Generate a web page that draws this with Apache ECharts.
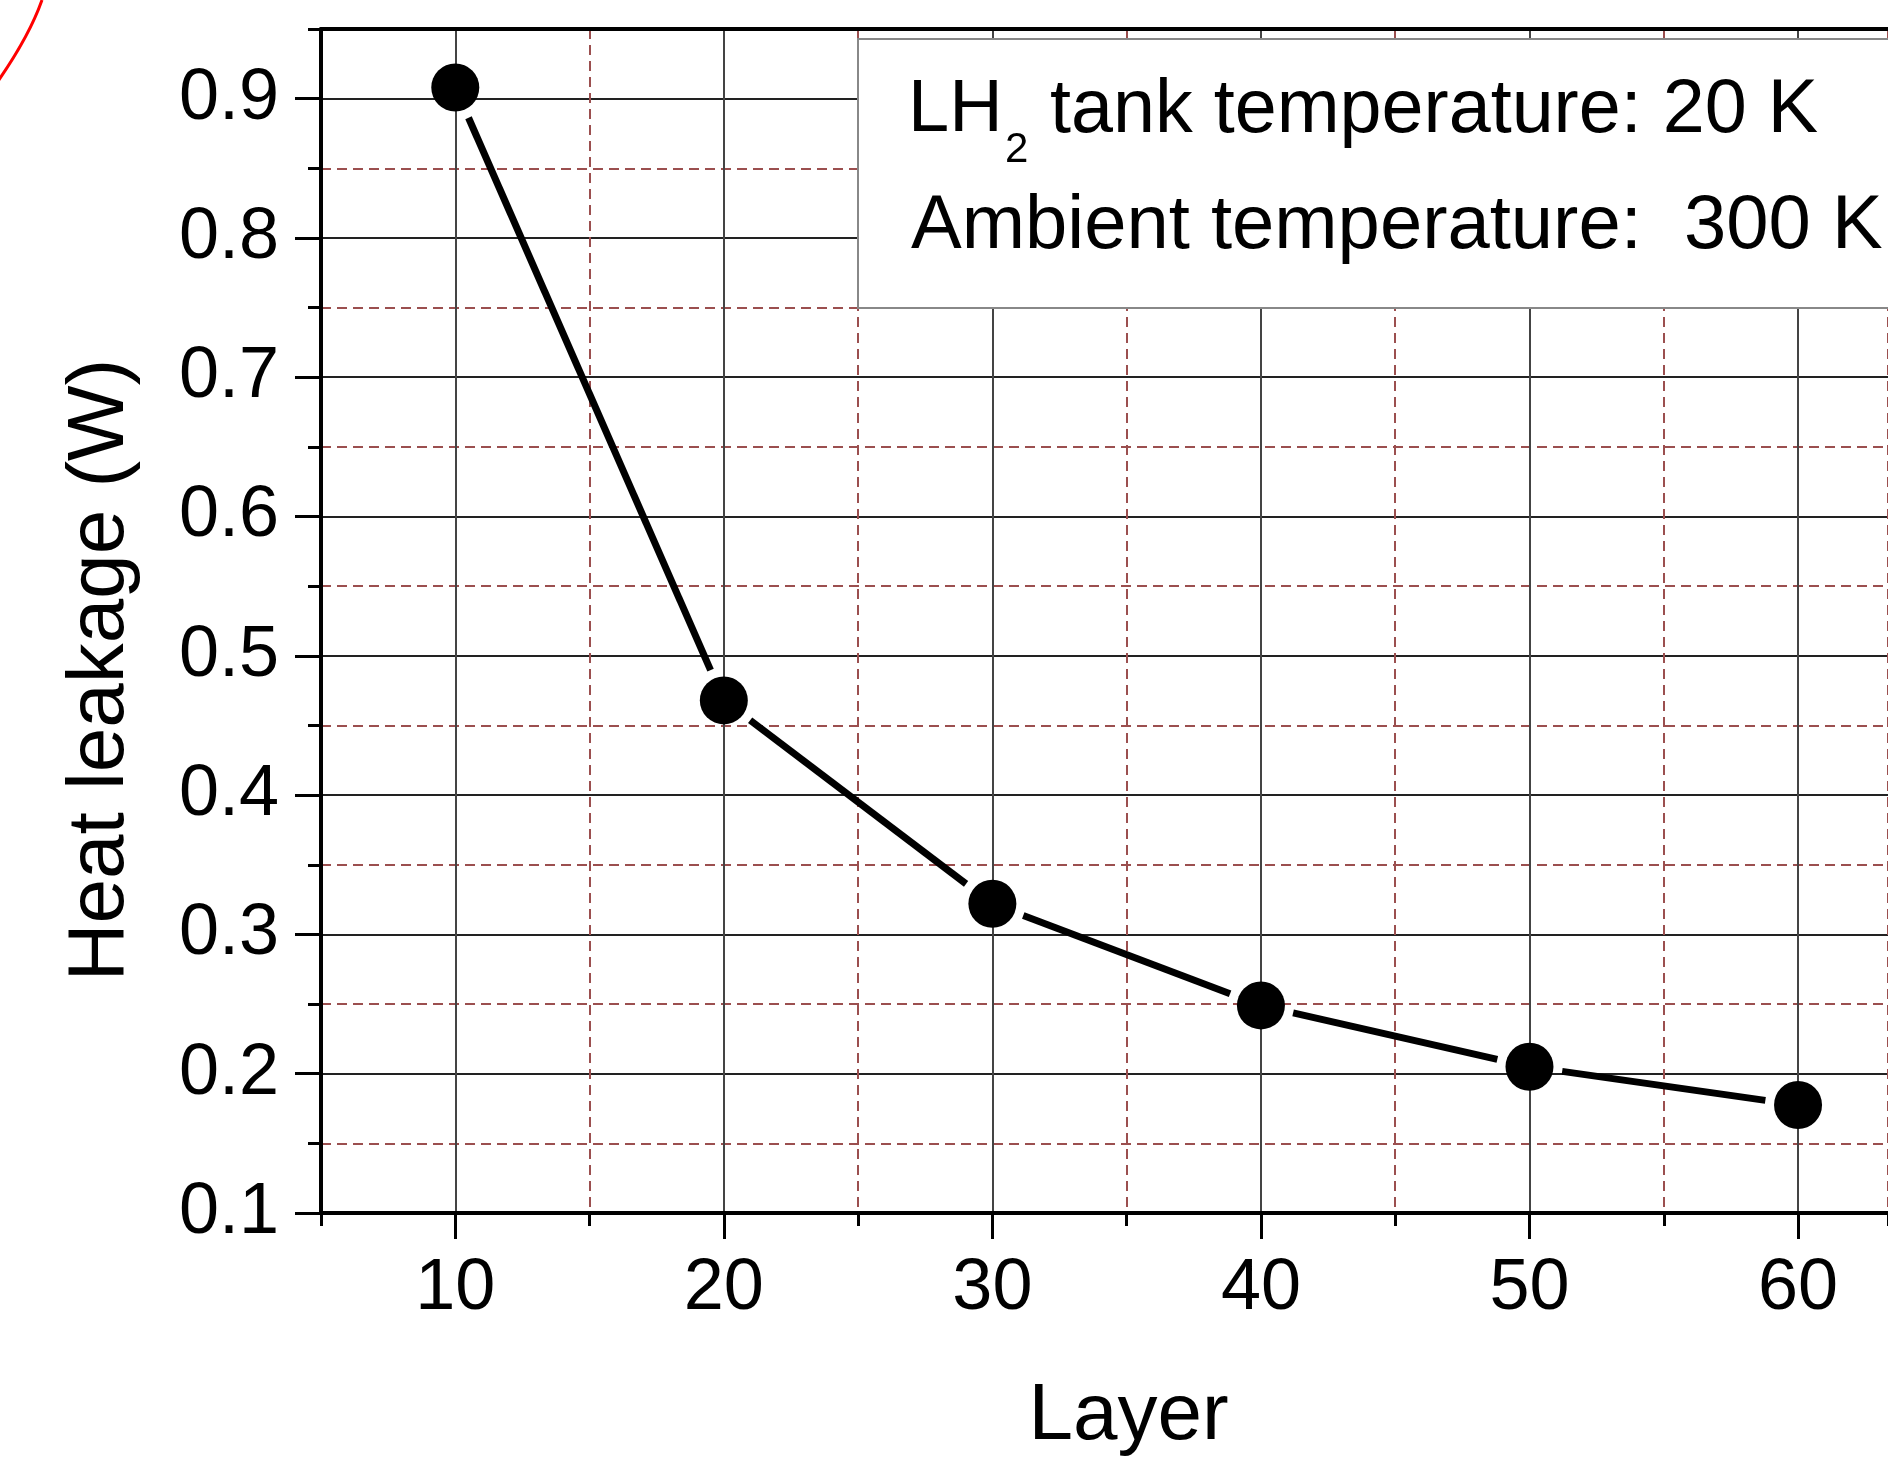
<!DOCTYPE html>
<html>
<head>
<meta charset="utf-8">
<title>Heat leakage vs layer</title>
<script src="https://cdn.jsdelivr.net/npm/echarts@6/dist/echarts.min.js"></script>
<style>
    html, body { margin: 0; padding: 0; background: #fff; }
    #main { width: 1888px; height: 1466px; }
</style>
</head>
<body>
<div id="main"></div>
<script>
'use strict';

// data
var layers = [10, 20, 30, 40, 50, 60];
var heatLeakage = [0.908, 0.468, 0.322, 0.249, 0.205, 0.1775];

// tick labels
var xTicks = [10, 20, 30, 40, 50, 60];
var yTicks = [0.1, 0.2, 0.3, 0.4, 0.5, 0.6, 0.7, 0.8, 0.9];

// the figure is cut off on the right, just past 63
var xMin = 5;
var xMax = 63.35;
var yMin = 0.1;
var yMax = 0.95;

var font = 'Liberation Sans, Arial, Helvetica, sans-serif';

function dashboardEcharts() {
    var myChart = echarts.init(document.getElementById('main'));

    var points = layers.map(function(x, i) {
        return [x, heatLeakage[i]];
    });

    // origin style line: segments stop short of the markers
    function renderSegment(params, api) {
        var i = params.dataIndex;
        if (i >= points.length - 1) {
            return null;
        }
        var p1 = api.coord(points[i]);
        var p2 = api.coord(points[i + 1]);
        var dx = p2[0] - p1[0];
        var dy = p2[1] - p1[1];
        var len = Math.sqrt(dx * dx + dy * dy);
        var gap = 33;
        return {
            type: 'line',
            shape: {
                x1: p1[0] + dx / len * gap,
                y1: p1[1] + dy / len * gap,
                x2: p2[0] - dx / len * gap,
                y2: p2[1] - dy / len * gap
            },
            style: {
                stroke: '#000',
                lineWidth: 7
            }
        };
    }

    var minorLine = {
        show: true,
        lineStyle: { color: '#9b4f4f', width: 2, type: [10, 6] }
    };

    var option = {
        backgroundColor: '#fff',
        animation: false,
        grid: {
            left: 321,
            top: 29,
            bottom: 253,
            right: 0,
            show: false
        },
        xAxis: [{
            // minor grid every 5
            type: 'value',
            min: xMin,
            max: xMax,
            interval: 5,
            position: 'bottom',
            name: 'Layer',
            nameLocation: 'middle',
            nameGap: 164,
            // original axis ran to 65, so its title sits a little right of this centre
            nameTextStyle: { fontFamily: font, fontSize: 80, color: '#000', padding: [0, 0, 0, 48] },
            axisLine: { show: true, onZero: false, lineStyle: { color: '#000', width: 4 } },
            axisTick: { show: true, inside: false, length: 13, lineStyle: { color: '#000', width: 3 } },
            axisLabel: { show: false },
            splitLine: minorLine
        }, {
            // major grid and labels every 10
            type: 'value',
            min: xMin,
            max: xMax,
            splitNumber: 6,
            position: 'bottom',
            axisLine: { show: false, onZero: false },
            axisTick: {
                show: true,
                inside: false,
                length: 26,
                customValues: xTicks,
                lineStyle: { color: '#000', width: 3 }
            },
            axisLabel: {
                show: true,
                customValues: xTicks,
                margin: 40,
                fontFamily: font,
                fontSize: 72,
                color: '#000',
                formatter: function(v) {
                    return xTicks.indexOf(v) >= 0 ? String(v) : '';
                }
            },
            splitLine: { show: true, lineStyle: { color: '#444', width: 2 } }
        }, {
            // top frame line
            type: 'value',
            min: xMin,
            max: xMax,
            position: 'top',
            axisLine: { show: true, onZero: false, lineStyle: { color: '#000', width: 4 } },
            axisTick: { show: false },
            axisLabel: { show: false },
            splitLine: { show: false }
        }],
        yAxis: [{
            // minor grid every 0.05
            type: 'value',
            min: yMin,
            max: yMax,
            interval: 0.05,
            position: 'left',
            axisLine: { show: true, onZero: false, lineStyle: { color: '#000', width: 4 } },
            axisTick: { show: true, inside: false, length: 13, lineStyle: { color: '#000', width: 3 } },
            axisLabel: { show: false },
            splitLine: minorLine
        }, {
            type: 'value',
            min: yMin,
            max: yMax,
            interval: 0.1,
            position: 'left',
            axisLine: { show: false, onZero: false },
            axisTick: {
                show: true,
                inside: false,
                length: 26,
                customValues: yTicks,
                lineStyle: { color: '#000', width: 3 }
            },
            axisLabel: {
                show: true,
                customValues: yTicks,
                margin: 42,
                fontFamily: font,
                fontSize: 72,
                color: '#000',
                formatter: function(v) {
                    return v > 0.92 ? '' : v.toFixed(1);
                }
            },
            splitLine: { show: true, lineStyle: { color: '#222', width: 2 } }
        }],
        series: [{
            name: 'line',
            type: 'custom',
            xAxisIndex: 0,
            yAxisIndex: 0,
            renderItem: renderSegment,
            data: points,
            z: 3
        }, {
            name: 'Heat leakage',
            type: 'scatter',
            xAxisIndex: 1,
            yAxisIndex: 1,
            symbol: 'circle',
            symbolSize: 48,
            itemStyle: { color: '#000', opacity: 1 },
            data: points,
            z: 4
        }],
        graphic: [{
            // y axis title, placed a bit below centre as in the figure
            type: 'text',
            x: 101,
            y: 670,
            rotation: Math.PI / 2,
            z: 20,
            style: {
                text: 'Heat leakage (W)',
                fontFamily: font,
                fontSize: 80,
                fill: '#000',
                align: 'center',
                verticalAlign: 'middle'
            }
        }, {
            // annotation box
            type: 'rect',
            z: 50,
            shape: { x: 858, y: 39, width: 1100, height: 269 },
            style: { fill: '#fff', stroke: '#888', lineWidth: 2 }
        }, {
            type: 'text',
            z: 51,
            x: 908,
            y: 111,
            style: {
                text: 'LH',
                fontFamily: font,
                fontSize: 74,
                fill: '#000',
                align: 'left',
                verticalAlign: 'middle'
            }
        }, {
            type: 'text',
            z: 51,
            x: 1005,
            y: 150,
            style: {
                text: '2',
                fontFamily: font,
                fontSize: 42,
                fill: '#000',
                align: 'left',
                verticalAlign: 'middle'
            }
        }, {
            type: 'text',
            z: 51,
            x: 1050,
            y: 111,
            style: {
                text: 'tank temperature: 20 K',
                fontFamily: font,
                fontSize: 75.5,
                fill: '#000',
                align: 'left',
                verticalAlign: 'middle'
            }
        }, {
            type: 'text',
            z: 51,
            x: 911,
            y: 227,
            style: {
                text: 'Ambient temperature:  300 K',
                fontFamily: font,
                fontSize: 76,
                fill: '#000',
                align: 'left',
                verticalAlign: 'middle'
            }
        }, {
            // red stroke in the top left corner
            type: 'bezierCurve',
            z: 60,
            shape: { x1: -4, y1: 84, cpx1: 29, cpy1: 37, x2: 42, y2: 0 },
            style: { stroke: '#ff0000', lineWidth: 3, fill: null }
        }]
    };
    myChart.setOption(option);
}

dashboardEcharts();
</script>
</body>
</html>
